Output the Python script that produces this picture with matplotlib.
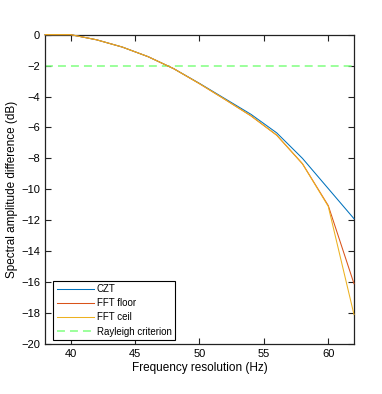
import matplotlib
matplotlib.use('Agg')
import matplotlib.pyplot as plt

plt.rcParams['font.family'] = ['Liberation Sans', 'DejaVu Sans']

# data
freq = [38, 40, 42, 44, 46, 48, 50, 52, 54, 56, 58, 60, 62]
czt = [0, 0, -0.33, -0.8, -1.42, -2.2, -3.15, -4.15, -5.15, -6.35, -8.0, -9.95, -11.9]
fft_floor = [0, 0, -0.33, -0.8, -1.42, -2.2, -3.17, -4.2, -5.25, -6.5, -8.35, -11.05, -16.1]
fft_ceil = [0, 0, -0.33, -0.8, -1.42, -2.2, -3.17, -4.2, -5.25, -6.5, -8.35, -11.1, -18.1]
rayleigh = -2

fig = plt.figure(figsize=(3.82, 3.94), dpi=100)
ax = fig.add_axes([0.1178, 0.1269, 0.8089, 0.7851])

ax.plot(freq, czt, color='#0072BD', lw=0.75, label='CZT', zorder=3, clip_on=False)
ax.plot(freq, fft_floor, color='#D95319', lw=0.75, label='FFT floor', zorder=3, clip_on=False)
ax.plot(freq, fft_ceil, color='#EDB120', lw=0.75, label='FFT ceil', zorder=3, clip_on=False)
ax.axhline(rayleigh, color='#80ff80', lw=1.1, linestyle=(0, (5.2, 3.3)),
           label='Rayleigh criterion')

ax.set_xlim(38, 62)
ax.set_ylim(-20, 0)
ax.set_xticks([40, 45, 50, 55, 60])
ax.set_yticks(range(-20, 1, 2))
ax.tick_params(direction='in', top=True, right=True, length=4, width=0.8,
               labelsize=8, color='#222222')
for s in ax.spines.values():
    s.set_linewidth(0.9)
    s.set_color('#222222')

ax.set_xlabel('Frequency resolution (Hz)', fontsize=8.5, labelpad=2)
ax.set_ylabel('Spectral amplitude difference (dB)', fontsize=8.5, labelpad=2)

leg = ax.legend(loc='lower left', bbox_to_anchor=(0.027, 0.013), borderaxespad=0,
                fontsize=7, fancybox=False, edgecolor='black', framealpha=1,
                handlelength=3.8, handletextpad=0.3, borderpad=0.35, labelspacing=0.42)
leg.get_frame().set_linewidth(0.8)
leg.set_zorder(5)

fig.savefig('out.png', dpi=100)
